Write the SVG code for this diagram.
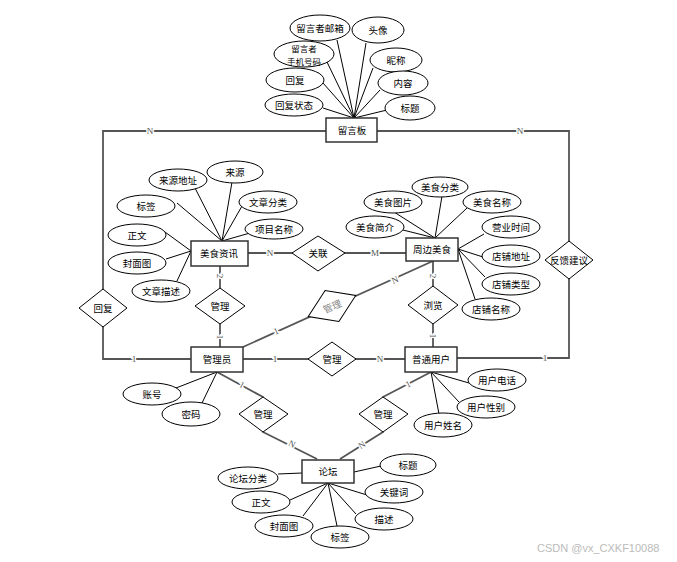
<svg xmlns="http://www.w3.org/2000/svg" width="677" height="562" viewBox="0 0 677 562">
<style>
.rel{fill:none;stroke:#555;stroke-width:1.8}
.att{fill:none;stroke:#000;stroke-width:1}
.ent{fill:#fff;stroke:#333;stroke-width:1.5}
.ell{fill:#fff;stroke:#000;stroke-width:1}
.dia{fill:#fff;stroke:#000;stroke-width:1}
text{font-family:"Noto Sans CJK SC","Noto Sans",sans-serif;font-size:9.5px;fill:#000;text-anchor:middle;dominant-baseline:central}
.two{font-size:8.5px}
.card{font-family:"Liberation Serif",serif;font-size:9px;fill:#555;stroke:#fff;stroke-width:3;paint-order:stroke}
.wm{font-family:"Liberation Sans",sans-serif;font-size:11px;fill:#bbb;text-anchor:start}
</style>
<rect width="677" height="562" fill="#fff"/>
<g id="connectors">
  <polyline class="rel" points="326,131 103,131 103,359 191,359"/>
  <polyline class="rel" points="377,131 569,131 569,358 457,358"/>
  <line class="rel" x1="248" y1="253" x2="406" y2="253"/>
  <line class="rel" x1="220" y1="266" x2="220" y2="347"/>
  <line class="rel" x1="433" y1="261" x2="433" y2="347"/>
  <line class="rel" x1="243" y1="347" x2="433" y2="261"/>
  <line class="rel" x1="243" y1="359" x2="405" y2="359"/>
  <polyline class="rel" points="217,372 263,397 263,432 317,459"/>
  <polyline class="rel" points="431,372 383,397 383,432 340,459"/>
  <line class="att" x1="354" y1="118" x2="337" y2="40"/>
  <line class="att" x1="354" y1="118" x2="366" y2="43"/>
  <line class="att" x1="354" y1="118" x2="327" y2="62"/>
  <line class="att" x1="354" y1="118" x2="373" y2="68"/>
  <line class="att" x1="354" y1="118" x2="323" y2="83"/>
  <line class="att" x1="354" y1="118" x2="380" y2="90"/>
  <line class="att" x1="354" y1="118" x2="323" y2="108"/>
  <line class="att" x1="354" y1="118" x2="387" y2="110"/>
  <line class="att" x1="222" y1="241" x2="177" y2="203"/>
  <line class="att" x1="222" y1="241" x2="195" y2="188"/>
  <line class="att" x1="222" y1="241" x2="232" y2="182"/>
  <line class="att" x1="222" y1="241" x2="242" y2="206"/>
  <line class="att" x1="222" y1="241" x2="250" y2="233"/>
  <line class="att" x1="191" y1="251" x2="165" y2="232"/>
  <line class="att" x1="191" y1="251" x2="166" y2="259"/>
  <line class="att" x1="191" y1="251" x2="177" y2="281"/>
  <line class="att" x1="435" y1="238" x2="403" y2="230"/>
  <line class="att" x1="435" y1="238" x2="394" y2="212"/>
  <line class="att" x1="435" y1="238" x2="442" y2="196"/>
  <line class="att" x1="435" y1="238" x2="467" y2="208"/>
  <line class="att" x1="458" y1="249" x2="484" y2="234"/>
  <line class="att" x1="458" y1="249" x2="483" y2="257"/>
  <line class="att" x1="458" y1="249" x2="485" y2="277"/>
  <line class="att" x1="458" y1="249" x2="475" y2="299"/>
  <line class="att" x1="217" y1="372" x2="176" y2="388"/>
  <line class="att" x1="217" y1="372" x2="202" y2="403"/>
  <line class="att" x1="431" y1="372" x2="469" y2="383"/>
  <line class="att" x1="431" y1="372" x2="459" y2="402"/>
  <line class="att" x1="431" y1="372" x2="439" y2="414"/>
  <line class="att" x1="354" y1="472" x2="381" y2="466"/>
  <line class="att" x1="302" y1="473" x2="278" y2="474"/>
  <line class="att" x1="328" y1="483" x2="367" y2="495"/>
  <line class="att" x1="328" y1="483" x2="290" y2="500"/>
  <line class="att" x1="328" y1="483" x2="303" y2="516"/>
  <line class="att" x1="328" y1="483" x2="337" y2="526"/>
  <line class="att" x1="328" y1="483" x2="356" y2="514"/>
  <text class="card" x="150" y="131">N</text>
  <text class="card" x="520" y="131">N</text>
  <text class="card" x="134" y="359">1</text>
  <text class="card" x="545" y="358">1</text>
  <text class="card" x="270" y="253">N</text>
  <text class="card" x="375" y="253">M</text>
  <text class="card" transform="translate(220,276) rotate(90)">2</text>
  <text class="card" transform="translate(220,337) rotate(90)">1</text>
  <text class="card" transform="translate(433,276) rotate(90)">2</text>
  <text class="card" transform="translate(433,336) rotate(90)">1</text>
  <text class="card" transform="translate(276,331) rotate(-24)">1</text>
  <text class="card" transform="translate(395,280) rotate(-24)">N</text>
  <text class="card" x="275" y="359">1</text>
  <text class="card" x="380" y="359">N</text>
  <text class="card" transform="translate(242,385) rotate(28)">1</text>
  <text class="card" transform="translate(292,444) rotate(27)">N</text>
  <text class="card" transform="translate(408,384) rotate(-28)">1</text>
  <text class="card" transform="translate(362,445) rotate(-32)">N</text>
</g>
<g id="liuyanban"><rect class="ent" x="326" y="118" width="51" height="24"/><text x="352" y="130">留言板</text></g>
<g id="ly-email"><ellipse class="ell" cx="320" cy="28" rx="30" ry="13"/><text x="320" y="28">留言者邮箱</text></g>
<g id="ly-avatar"><ellipse class="ell" cx="378" cy="30" rx="26" ry="13"/><text x="378" y="30">头像</text></g>
<g id="ly-phone"><ellipse class="ell" cx="304" cy="54" rx="30" ry="13"/><text class="two" x="304" y="47.5">留言者</text><text class="two" x="304" y="60.5">手机号码</text></g>
<g id="ly-nick"><ellipse class="ell" cx="396" cy="60" rx="26" ry="12"/><text x="396" y="60">昵称</text></g>
<g id="ly-reply"><ellipse class="ell" cx="295" cy="80" rx="29" ry="12"/><text x="295" y="80">回复</text></g>
<g id="ly-content"><ellipse class="ell" cx="403" cy="83" rx="25" ry="12"/><text x="403" y="83">内容</text></g>
<g id="ly-replystate"><ellipse class="ell" cx="294" cy="105" rx="29" ry="11"/><text x="294" y="105">回复状态</text></g>
<g id="ly-title"><ellipse class="ell" cx="410" cy="108" rx="25" ry="12"/><text x="410" y="108">标题</text></g>

<g id="meishizixun"><rect class="ent" x="191" y="241" width="57" height="25"/><text x="219" y="253">美食资讯</text></g>
<g id="zx-srcaddr"><ellipse class="ell" cx="178" cy="180" rx="29" ry="11"/><text x="178" y="180">来源地址</text></g>
<g id="zx-src"><ellipse class="ell" cx="235" cy="172" rx="28" ry="11"/><text x="235" y="172">来源</text></g>
<g id="zx-tag"><ellipse class="ell" cx="146" cy="206" rx="29" ry="11"/><text x="146" y="206">标签</text></g>
<g id="zx-cat"><ellipse class="ell" cx="268" cy="202" rx="29" ry="11"/><text x="268" y="202">文章分类</text></g>
<g id="zx-body"><ellipse class="ell" cx="137" cy="235" rx="29" ry="11"/><text x="137" y="235">正文</text></g>
<g id="zx-proj"><ellipse class="ell" cx="274" cy="229" rx="29" ry="10"/><text x="274" y="229">项目名称</text></g>
<g id="zx-cover"><ellipse class="ell" cx="137" cy="263" rx="29" ry="11"/><text x="137" y="263">封面图</text></g>
<g id="zx-desc"><ellipse class="ell" cx="161" cy="291" rx="29" ry="11"/><text x="161" y="291">文章描述</text></g>

<g id="zhoubianmeishi"><rect class="ent" x="406" y="238" width="52" height="23"/><text x="432" y="249">周边美食</text></g>
<g id="ms-cat"><ellipse class="ell" cx="440" cy="187" rx="28" ry="10"/><text x="440" y="187">美食分类</text></g>
<g id="ms-pic"><ellipse class="ell" cx="393" cy="202" rx="29" ry="11"/><text x="393" y="202">美食图片</text></g>
<g id="ms-name"><ellipse class="ell" cx="492" cy="202" rx="29" ry="11"/><text x="492" y="202">美食名称</text></g>
<g id="ms-intro"><ellipse class="ell" cx="375" cy="227" rx="29" ry="11"/><text x="375" y="227">美食简介</text></g>
<g id="ms-hours"><ellipse class="ell" cx="511" cy="227" rx="29" ry="11"/><text x="511" y="227">营业时间</text></g>
<g id="ms-addr"><ellipse class="ell" cx="511" cy="256" rx="29" ry="11"/><text x="511" y="256">店铺地址</text></g>
<g id="ms-type"><ellipse class="ell" cx="511" cy="284" rx="29" ry="11"/><text x="511" y="284">店铺类型</text></g>
<g id="ms-shop"><ellipse class="ell" cx="491" cy="309" rx="29" ry="11"/><text x="491" y="309">店铺名称</text></g>

<g id="guanliyuan"><rect class="ent" x="191" y="347" width="52" height="25"/><text x="217" y="359">管理员</text></g>
<g id="gly-acc"><ellipse class="ell" cx="152" cy="394" rx="29" ry="11"/><text x="152" y="394">账号</text></g>
<g id="gly-pwd"><ellipse class="ell" cx="191" cy="414" rx="29" ry="12"/><text x="191" y="414">密码</text></g>

<g id="putongyonghu"><rect class="ent" x="405" y="347" width="52" height="25"/><text x="431" y="359">普通用户</text></g>
<g id="yh-phone"><ellipse class="ell" cx="497" cy="380" rx="29" ry="11"/><text x="497" y="380">用户电话</text></g>
<g id="yh-sex"><ellipse class="ell" cx="486" cy="407" rx="29" ry="11"/><text x="486" y="407">用户性别</text></g>
<g id="yh-name"><ellipse class="ell" cx="443" cy="425" rx="29" ry="12"/><text x="443" y="425">用户姓名</text></g>

<g id="luntan"><rect class="ent" x="302" y="460" width="52" height="23"/><text x="328" y="471">论坛</text></g>
<g id="lt-title"><ellipse class="ell" cx="408" cy="465" rx="28" ry="11"/><text x="408" y="465">标题</text></g>
<g id="lt-cat"><ellipse class="ell" cx="248" cy="478" rx="30" ry="11"/><text x="248" y="478">论坛分类</text></g>
<g id="lt-kw"><ellipse class="ell" cx="394" cy="492" rx="29" ry="11"/><text x="394" y="492">关键词</text></g>
<g id="lt-body"><ellipse class="ell" cx="261" cy="502" rx="29" ry="11"/><text x="261" y="502">正文</text></g>
<g id="lt-desc"><ellipse class="ell" cx="384" cy="519" rx="29" ry="11"/><text x="384" y="519">描述</text></g>
<g id="lt-cover"><ellipse class="ell" cx="284" cy="526" rx="29" ry="11"/><text x="284" y="526">封面图</text></g>
<g id="lt-tag"><ellipse class="ell" cx="340" cy="537" rx="29" ry="11"/><text x="340" y="537">标签</text></g>

<g id="rel-huifu"><polygon class="dia" points="79,308 103,289 127,308 103,327"/><text x="103" y="308">回复</text></g>
<g id="rel-fankui"><polygon class="dia" points="545,260 569,241 593,260 569,279"/><text x="569" y="260">反馈建议</text></g>
<g id="rel-guanlian"><polygon class="dia" points="292,253 318,236 345,253 318,271"/><text x="318" y="253">关联</text></g>
<g id="rel-guanli1"><polygon class="dia" points="195,306 220,288 245,306 220,324"/><text x="220" y="306">管理</text></g>
<g id="rel-liulan"><polygon class="dia" points="408,305 433,286 458,305 433,324"/><text x="433" y="305">浏览</text></g>
<g id="rel-guanli2"><g transform="translate(332,306) rotate(-24)"><polygon class="dia" points="-26,0 0,-17 26,0 0,17"/><text x="0" y="0" style="fill:#888">管理</text></g></g>
<g id="rel-guanli3"><polygon class="dia" points="308,359 332,342 356,359 332,376"/><text x="332" y="359">管理</text></g>
<g id="rel-guanli4"><polygon class="dia" points="239,414 263,397 288,414 263,432"/><text x="263" y="414">管理</text></g>
<g id="rel-guanli5"><polygon class="dia" points="359,414 383,397 408,414 383,432"/><text x="383" y="414">管理</text></g>
<text class="wm" x="537" y="548">CSDN @vx_CXKF10088</text>
</svg>
